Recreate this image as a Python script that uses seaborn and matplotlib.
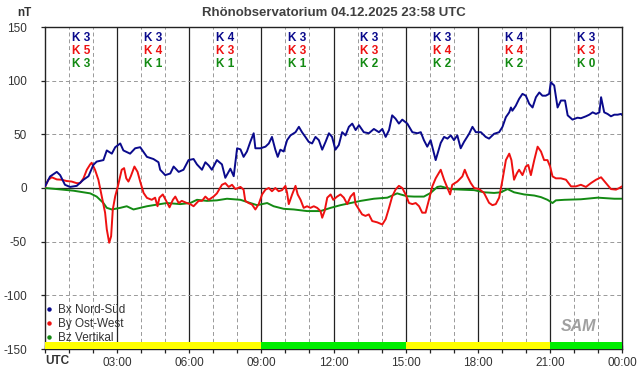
import matplotlib
matplotlib.use("Agg")
import matplotlib.pyplot as plt
from matplotlib.lines import Line2D
import seaborn as sns

# --- data (hours UTC, nT) ---
bx_t = [0.0, 0.21, 0.49, 0.63, 0.83, 1.04, 1.32, 1.6, 1.81, 2.01, 2.15, 2.43, 2.57, 2.78, 2.92,
        3.13, 3.26, 3.54, 3.75, 3.96, 4.24, 4.51, 4.72, 4.79, 5.0, 5.21, 5.35, 5.56, 5.76, 5.97,
        6.18, 6.32, 6.53, 6.67, 6.81, 6.94, 7.15, 7.36, 7.5, 7.71, 7.85, 7.99, 8.13, 8.26, 8.4,
        8.54, 8.68, 8.75, 8.96, 9.17, 9.31, 9.44, 9.58, 9.68, 9.79, 9.93, 10.07, 10.21, 10.42,
        10.56, 10.69, 10.83, 10.97, 11.11, 11.25, 11.39, 11.53, 11.67, 11.81, 11.94, 12.08,
        12.22, 12.36, 12.5, 12.64, 12.78, 12.92, 13.06, 13.26, 13.47, 13.68, 13.89, 14.03,
        14.17, 14.31, 14.44, 14.58, 14.72, 14.86, 15.07, 15.28, 15.49, 15.63, 15.76, 15.9,
        16.04, 16.25, 16.46, 16.6, 16.74, 16.88, 17.01, 17.15, 17.29, 17.43, 17.64, 17.78,
        17.92, 18.13, 18.33, 18.47, 18.68, 18.89, 19.03, 19.17, 19.31, 19.38, 19.44, 19.58,
        19.72, 19.86, 20.0, 20.14, 20.28, 20.42, 20.56, 20.69, 20.83, 20.97, 21.04, 21.18,
        21.32, 21.46, 21.63, 21.74, 21.94, 22.15, 22.29, 22.5, 22.64, 22.78, 22.92, 23.06,
        23.13, 23.26, 23.4, 23.54, 23.68, 23.82, 23.96, 24.0]
bx = [1.5, 10.7, 15, 12, 3, 1, 2, 7.7, 11, 21.5, 24.6, 26, 35, 32, 38,
      41.5, 35, 32, 37, 38, 29, 27, 24, 17, 12, 13.5, 20, 15, 17, 26,
      27, 22, 17, 24, 21, 17, 26, 22, 9.5, 18, 11, 37, 36, 29, 34,
      43, 51, 37, 37, 38.5, 41.5, 47.6, 35.7, 29, 35.7, 34, 44.6, 49, 52,
      57, 52, 47.6, 43, 41.5, 47.6, 44.6, 35.7, 43, 51, 47.6, 35.7,
      40, 52, 49, 57, 60, 54, 58.5, 52, 51, 55, 52, 55,
      47.6, 54, 67.7, 64.6, 60, 63.7, 60, 52, 51, 52, 44.6, 38.5,
      44.6, 26, 42, 47.6, 46, 49, 44.6, 49, 37, 43, 50.5, 57,
      52, 52, 47.6, 46, 50.5, 52, 57, 66, 70.5, 75, 72, 76.6,
      83, 87.7, 86, 78.5, 75, 84.6, 89, 86, 86, 87.7, 98.5, 95.5,
      75, 81.5, 81.5, 67.7, 63.7, 65.5, 65, 66.8, 68.3, 70.5, 69, 70.5,
      84.6, 70.5, 69, 66.8, 68.3, 68.3, 69, 68]

by_t = [0.0, 0.14, 0.28, 0.49, 0.69, 0.9, 1.11, 1.32, 1.46, 1.6, 1.74, 1.88, 1.94, 2.08, 2.22,
        2.36, 2.5, 2.57, 2.67, 2.75, 2.82, 2.92, 3.03, 3.19, 3.29, 3.38, 3.47, 3.57, 3.72, 3.85,
        3.96, 4.1, 4.24, 4.44, 4.58, 4.68, 4.76, 4.9, 5.04, 5.18, 5.32, 5.42, 5.56, 5.69, 5.9,
        6.04, 6.18, 6.39, 6.53, 6.67, 6.81, 7.01, 7.15, 7.36, 7.5, 7.64, 7.78, 7.92, 8.13,
        8.26, 8.33, 8.47, 8.61, 8.75, 8.89, 9.03, 9.17, 9.31, 9.44, 9.58, 9.72, 9.86, 10.0,
        10.07, 10.14, 10.28, 10.42, 10.51, 10.63, 10.76, 10.9, 11.04, 11.18, 11.32, 11.46,
        11.53, 11.63, 11.74, 11.88, 11.99, 12.15, 12.29, 12.43, 12.57, 12.71, 12.85, 12.92,
        13.06, 13.19, 13.33, 13.47, 13.61, 13.82, 14.03, 14.17, 14.31, 14.44, 14.58, 14.72,
        14.86, 15.0, 15.14, 15.28, 15.42, 15.56, 15.69, 15.83, 15.97, 16.11, 16.25, 16.46,
        16.6, 16.74, 16.85, 16.94, 17.15, 17.36, 17.46, 17.57, 17.71, 17.85, 18.06, 18.26,
        18.47, 18.61, 18.75, 18.89, 19.03, 19.17, 19.31, 19.4, 19.51, 19.63, 19.72, 19.86,
        20.0, 20.1, 20.21, 20.35, 20.49, 20.63, 20.76, 20.9, 21.01, 21.11, 21.25, 21.46,
        21.67, 21.88, 22.08, 22.29, 22.5, 22.71, 22.92, 23.13, 23.33, 23.54, 23.75, 23.89, 24.0]
by = [1, 7.7, 10, 8, 7.7, 6.5, 6, 4.5, 4.5, 9, 17, 22, 23.5, 17, 7.7,
      -7.7, -23, -38.5, -51, -45, -20, -7.7, 1.5, 17, 18.5, 9, 6, 11, 20, 15,
      6, -4.6, -9.2, -11, -9, -17, -9, -6, -12, -18, -11, -8, -14, -12, -14,
      -15, -17, -12, -12, -8, -11, -8, -5, 3, 4.5, 1, 3, -1, 1,
      -1.5, -12, -14, -15.4, -20, -15, -6, -1.5, 0, -3, 0, -3, -2, 2,
      -4.6, -15, -6, 2, -6, -11, -18.5, -17, -18.5, -17, -18.5, -21.5,
      -27.7, -21.5, -9, -6, -11, -8, -6, -9, -15, -8, -4.6, -15,
      -20, -24.6, -26, -24.6, -30.8, -32, -34, -29, -18.5, -8, -1.5, 2,
      0, -6, -14, -15, -14, -17, -23, -23, -11, 1.5, 9, 17,
      7.7, 0, -6, 3, 6, 10.8, 17, 10.8, 4.6, 0, -1, -4.6,
      -13.8, -16, -15, -9, 7.7, 26, 32, 26, 7.7, 13.8, 17, 12,
      20, 21.5, 12, 26, 38.5, 34, 26, 26, 20, 10.8, 9, 9,
      7.7, 1.5, 1.5, 3, 1, 4.6, 7.7, 10, 4.6, -1, -1.5, 0, 1.5]

bz_t = [0.0, 0.49, 1.18, 1.88, 2.15, 2.43, 2.57, 2.78, 3.13, 3.4, 3.68, 3.96, 4.24, 4.51,
        5.07, 5.63, 6.04, 6.32, 6.74, 7.15, 7.57, 8.13, 8.54, 8.82, 9.24, 9.51, 9.93, 10.35,
        10.9, 11.46, 11.88, 12.29, 12.71, 13.13, 13.68, 14.24, 14.65, 14.79, 15.07, 15.35,
        15.76, 16.04, 16.32, 16.46, 16.88, 17.29, 17.85, 18.26, 18.68, 18.96, 19.24, 19.51,
        19.93, 20.35, 20.63, 20.9, 21.11, 21.25, 21.6, 22.29, 22.99, 23.68, 24.0]
bz = [0, -1, -2.5, -5, -8, -14, -18.5, -20, -18.5, -17, -20, -18.5, -17, -16,
      -14, -15, -14, -11, -12, -11.5, -10, -11, -14, -16, -14, -17, -19.4, -20,
      -21.5, -21.5, -18.5, -16, -14, -12, -10, -9, -5, -6, -7.7, -8,
      -8, -4.6, 1, 1.5, -1, -1.5, -2, -4, -4.6, -4, -1, -4,
      -6, -7, -8.5, -11, -14, -11.5, -11, -10.5, -9, -10, -10]

# K indices per 3-hour block
k_bx = [3, 3, 4, 3, 3, 3, 4, 3]
k_by = [5, 4, 3, 3, 3, 4, 4, 3]
k_bz = [3, 1, 1, 1, 2, 2, 2, 0]

# bottom status bar
bar_start = [0, 9, 15, 21]
bar_len = [9, 6, 6, 3]
bar_colors = ["#ffff00", "#00ee00", "#ffff00", "#00ee00"]

labels = ["Bx Nord-Süd", "By Ost-West", "Bz Vertikal"]
colors = ["#0a0a8c", "#ee1111", "#138a13"]
xtick_labels = ["03:00", "06:00", "09:00", "12:00", "15:00", "18:00", "21:00", "00:00"]

sns.set_style("white")
plt.rcParams['font.family'] = ['Liberation Sans', 'DejaVu Sans']
plt.rcParams['axes.unicode_minus'] = False
txt = "#333333"

fig = plt.figure(figsize=(6.42, 3.76), dpi=100)
ax = fig.add_axes([45 / 642, 1 - 349 / 376, 577 / 642, 322 / 376])

# grid
for h in range(1, 24):
    if h % 3 == 0:
        ax.axvline(h, color="#222222", lw=0.9, zorder=1)
    else:
        ax.axvline(h, color="#999999", lw=0.7, ls=(0, (4, 3)), zorder=1)
for v in [-100, -50, 50, 100]:
    ax.axhline(v, color="#999999", lw=0.7, ls=(0, (4, 3)), zorder=1)
ax.axhline(0, color="#222222", lw=0.9, zorder=1)

sns.lineplot(x=bz_t, y=bz, color=colors[2], lw=1.4, ax=ax, zorder=3)
sns.lineplot(x=by_t, y=by, color=colors[1], lw=1.4, ax=ax, zorder=4)
sns.lineplot(x=bx_t, y=bx, color=colors[0], lw=1.4, ax=ax, zorder=5)

ax.bar(bar_start, 6.5, width=bar_len, bottom=-150, align="edge",
       color=bar_colors, linewidth=0, zorder=6)

# K labels
for i in range(8):
    xc = i * 3 + 1.5
    for kv, col, yv in zip([k_bx[i], k_by[i], k_bz[i]], colors, [140, 127.5, 115.5]):
        ax.text(xc, yv, f"K {kv}", color=col, fontsize=8.5, fontweight="bold",
                ha="center", va="center", zorder=7)

ax.set_xlim(0, 24)
ax.set_ylim(-150, 150)
ax.set_xticks(range(0, 25))
ax.set_xticklabels([""] + [xtick_labels[(h // 3) - 1] if h % 3 == 0 else "" for h in range(1, 25)])
ax.set_yticks([-150, -100, -50, 0, 50, 100, 150])
ax.tick_params(axis="x", direction="inout", length=6, width=0.9, color="#222222",
               labelsize=8.5, labelcolor=txt, pad=3, bottom=True)
ax.tick_params(axis="y", direction="out", length=3, width=0.9, color="#222222",
               labelsize=8.5, labelcolor=txt, pad=10, left=True)
for s in ax.spines.values():
    s.set_color("#222222")
    s.set_linewidth(1)
ax.set_xlabel("")
ax.set_ylabel("")

ax.text(0, -0.037, "UTC", transform=ax.get_xaxis_transform(), ha="left", va="center",
        fontsize=8.5, fontweight="bold", color=txt)
fig.text(17 / 642, 1 - 13 / 376, "nT", ha="left", va="center", fontsize=8.5,
         fontweight="bold", color=txt)
ax.set_title("Rhönobservatorium 04.12.2025 23:58 UTC", fontsize=9.5, fontweight="bold",
             color="#404040", pad=8)

handles = [Line2D([], [], ls="none", marker="o", ms=2.2, color=c) for c in colors]
ax.legend(handles, labels, loc="lower left", bbox_to_anchor=(0, 0.012), frameon=False,
          handlelength=0.5, handletextpad=0.5, labelspacing=0.15, borderaxespad=0,
          borderpad=0.1, fontsize=8.5, labelcolor=txt)

# logo placeholder
ax.text(22.2, -129, "SAM", fontsize=11.5, fontstyle="italic", fontweight="bold",
        color="#a0a0a0", ha="center", va="center", zorder=7)

fig.savefig("out.png", dpi=100)
